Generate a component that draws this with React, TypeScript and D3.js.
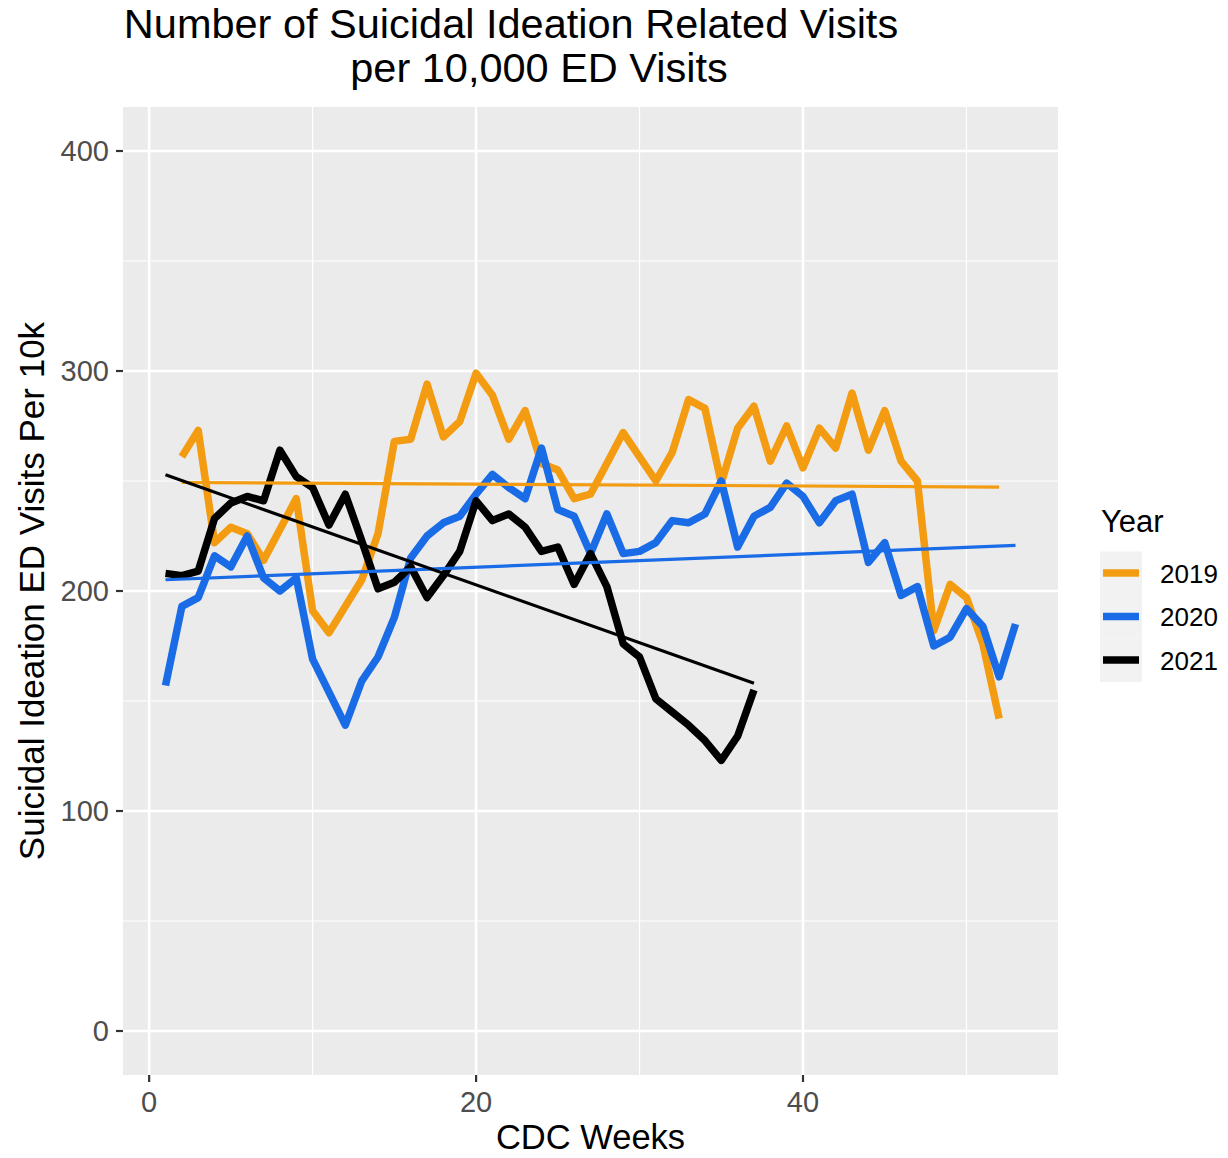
import * as d3 from "d3";

// CDC weeks and weekly rates per 10k ED visits
const weeks2019 = d3.range(2, 53);
const rate2019 = [
  261, 273, 222, 229, 226, 214, 228, 242, 191, 181, 193, 205, 226, 268, 269,
  294, 270, 277, 299, 289, 269, 282, 258, 255, 242, 244, 258, 272, 261, 250,
  263, 287, 283, 249, 274, 284, 259, 275, 256, 274, 265, 290, 264, 282, 259,
  250, 182, 203, 197, 176, 142,
];

const weeks2020 = d3.range(1, 54);
const rate2020 = [
  157, 193, 197, 216, 211, 225, 206, 200, 206, 169, 154, 139, 159, 170, 188,
  215, 225, 231, 234, 244, 253, 247, 242, 265, 237, 234, 217, 235, 217, 218,
  222, 232, 231, 235, 250, 220, 234, 238, 249, 243, 231, 241, 244, 213, 222,
  198, 202, 175, 179, 192, 184, 161, 185,
];

const weeks2021 = d3.range(1, 38);
const rate2021 = [
  208, 207, 209, 233, 240, 243, 241, 264, 252, 247, 230, 244, 223, 201, 204,
  211, 197, 207, 218, 241, 232, 235, 229, 218, 220, 203, 217, 202, 176, 170,
  151, 145, 139, 132, 123, 134, 155,
];

const years = ["2019", "2020", "2021"];
const yearColors = ["#F39C12", "#1A6BE6", "#000000"];
const xTicks = [0, 20, 40];
const xMinor = [10, 30, 50];
const yTicks = [0, 100, 200, 300, 400];
const yMinor = [50, 150, 250, 350];

const series = [
  { year: years[0], weeks: weeks2019, values: rate2019, color: yearColors[0] },
  { year: years[1], weeks: weeks2020, values: rate2020, color: yearColors[1] },
  { year: years[2], weeks: weeks2021, values: rate2021, color: yearColors[2] },
];

// least squares fit, like geom_smooth(method = "lm")
function fit(xs: number[], ys: number[]) {
  const mx = d3.mean(xs) as number;
  const my = d3.mean(ys) as number;
  let num = 0;
  let den = 0;
  xs.forEach((x, i) => {
    num += (x - mx) * (ys[i] - my);
    den += (x - mx) * (x - mx);
  });
  const b = num / den;
  const a = my - b * mx;
  const x0 = d3.min(xs) as number;
  const x1 = d3.max(xs) as number;
  return [
    [x0, a + b * x0],
    [x1, a + b * x1],
  ];
}

const W = 1228;
const H = 1158;
const panel = { left: 123, right: 1058, top: 107, bottom: 1075 };
const font = "'Liberation Sans', Arial, sans-serif";

export default function App() {
  const x = d3.scaleLinear().domain([-1.6, 55.6]).range([panel.left, panel.right]);
  const y = d3.scaleLinear().domain([-20, 420]).range([panel.bottom, panel.top]);

  const line = d3
    .line<[number, number]>()
    .x((d) => x(d[0]))
    .y((d) => y(d[1]));

  return (
    <div style={{ position: "absolute", left: 0, top: 0, background: "#fff" }}>
      <svg width={W} height={H} style={{ display: "block", fontFamily: font }}>
        <rect width={W} height={H} fill="#fff" />

        {/* title */}
        <text x={511} y={38} textAnchor="middle" fontSize={41.5} fill="#000">
          Number of Suicidal Ideation Related Visits
        </text>
        <text x={539} y={82} textAnchor="middle" fontSize={41.5} fill="#000">
          per 10,000 ED Visits
        </text>

        {/* panel */}
        <rect
          x={panel.left}
          y={panel.top}
          width={panel.right - panel.left}
          height={panel.bottom - panel.top}
          fill="#EBEBEB"
        />
        {yMinor.map((t) => (
          <line key={"ym" + t} x1={panel.left} x2={panel.right} y1={y(t)} y2={y(t)} stroke="#fff" strokeWidth={1.2} />
        ))}
        {xMinor.map((t) => (
          <line key={"xm" + t} x1={x(t)} x2={x(t)} y1={panel.top} y2={panel.bottom} stroke="#fff" strokeWidth={1.2} />
        ))}
        {yTicks.map((t) => (
          <line key={"yg" + t} x1={panel.left} x2={panel.right} y1={y(t)} y2={y(t)} stroke="#fff" strokeWidth={2.6} />
        ))}
        {xTicks.map((t) => (
          <line key={"xg" + t} x1={x(t)} x2={x(t)} y1={panel.top} y2={panel.bottom} stroke="#fff" strokeWidth={2.6} />
        ))}

        {/* data lines */}
        {series.map((s) => (
          <path
            key={"l" + s.year}
            d={line(s.weeks.map((w, i) => [w, s.values[i]]) as [number, number][]) as string}
            fill="none"
            stroke={s.color}
            strokeWidth={7.5}
            strokeLinejoin="round"
          />
        ))}
        {/* linear trend lines */}
        {series.map((s) => (
          <path
            key={"t" + s.year}
            d={line(fit(s.weeks, s.values) as [number, number][]) as string}
            fill="none"
            stroke={s.color}
            strokeWidth={3.2}
          />
        ))}

        {/* axes */}
        {yTicks.map((t) => (
          <g key={"yt" + t}>
            <line x1={panel.left - 7} x2={panel.left} y1={y(t)} y2={y(t)} stroke="#333" strokeWidth={2.2} />
            <text x={panel.left - 14} y={y(t) + 10} textAnchor="end" fontSize={29} fill="#4D4D4D">
              {t}
            </text>
          </g>
        ))}
        {xTicks.map((t) => (
          <g key={"xt" + t}>
            <line x1={x(t)} x2={x(t)} y1={panel.bottom} y2={panel.bottom + 7} stroke="#333" strokeWidth={2.2} />
            <text x={x(t)} y={panel.bottom + 37} textAnchor="middle" fontSize={29} fill="#4D4D4D">
              {t}
            </text>
          </g>
        ))}
        <text x={(panel.left + panel.right) / 2} y={1149} textAnchor="middle" fontSize={34.5} fill="#000">
          CDC Weeks
        </text>
        <text
          transform={`translate(44, ${(panel.top + panel.bottom) / 2}) rotate(-90)`}
          textAnchor="middle"
          fontSize={35}
          fill="#000"
        >
          Suicidal Ideation ED Visits Per 10k
        </text>

        {/* legend */}
        <text x={1101} y={532} fontSize={31} fill="#000">
          Year
        </text>
        {series.map((s, i) => {
          const cy = 573 + i * 43.5;
          return (
            <g key={"lg" + s.year}>
              <rect x={1100} y={cy - 21.5} width={42} height={43.5} fill="#F2F2F2" />
              <line x1={1103} x2={1139} y1={cy} y2={cy} stroke={s.color} strokeWidth={7.5} />
              <text x={1160} y={cy + 9.5} fontSize={26} fill="#000">
                {s.year}
              </text>
            </g>
          );
        })}
      </svg>
    </div>
  );
}
